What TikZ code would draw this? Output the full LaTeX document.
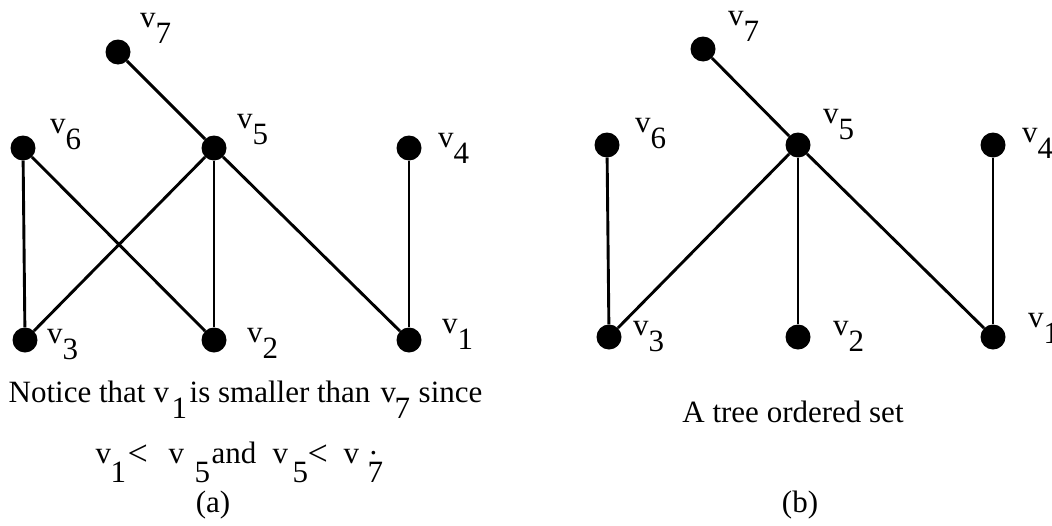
\documentclass[tikz,border=0pt]{standalone}
\usepackage{fontspec}
\setmainfont{Liberation Serif}
\newcommand{\vlab}[1]{v\lower16pt\hbox{#1}}
\newcommand{\putat}[2]{\makebox[0pt][l]{\kern#1pt #2}}
\newcommand{\lessmark}{\lower2pt\hbox{\fontsize{36}{40}\selectfont<}}
\begin{document}
\begin{tikzpicture}[x=1pt,y=-1pt,
  font=\fontsize{31}{37}\selectfont,
  dot/.style={circle,fill=black,minimum size=25pt,inner sep=0pt},
  edge/.style={line width=2.9pt},
  lab/.style={anchor=base west,inner sep=0pt},
  txt/.style={inner sep=0pt}]
\useasboundingbox (0,0) rectangle (1052,525);
% ---------- (a) ----------
\node[dot] (a7) at (118,52) {};
\node[dot] (a6) at (23,148) {};
\node[dot] (a5) at (214,148) {};
\node[dot] (a4) at (409,148) {};
\node[dot] (a3) at (25,340) {};
\node[dot] (a2) at (214,340) {};
\node[dot] (a1) at (409,340) {};
\draw[edge] (a7) -- (a5);
\draw[edge] (a6) -- (a3);
\draw[edge] (a6) -- (a2);
\draw[edge] (a5) -- (a3);
\draw[edge] (a5) -- (a2);
\draw[edge] (a5) -- (a1);
\draw[edge] (a4) -- (a1);
\node[lab] (la7) at (140,27) {\vlab{7}};
\node[lab] (la6) at (50,133) {\vlab{6}};
\node[lab] (la5) at (237,128) {\vlab{5}};
\node[lab] (la4) at (438,147) {\vlab{4}};
\node[lab] (la3) at (47,343) {\vlab{3}};
\node[lab] (la2) at (247,342) {\vlab{2}};
\node[lab] (la1) at (442,333) {\vlab{1}};
\node[txt,anchor=base west] (nt1) at (8,402) {\putat{0}{Notice that}\putat{145}{v}\putat{163}{\lower16pt\hbox{1}}\putat{181}{is smaller than}\putat{372}{v}\putat{386}{\lower16pt\hbox{7}}\putat{410}{since}};
\node[txt,anchor=base west] (nt2) at (95,463) {\putat{0}{v}\putat{15}{\lower19pt\hbox{1}}\putat{32}{\lessmark}\putat{73}{v}\putat{99}{\lower19pt\hbox{5}}\putat{116}{and}\putat{177}{v}\putat{197}{\lower19pt\hbox{5}}\putat{212}{\lessmark}\putat{248}{v}\putat{272}{\lower19pt\hbox{7}}\putat{274}{\raise9pt\hbox{.}}};
\node[txt,anchor=base] (capa) at (213,512) {(a)};
% ---------- (b) ----------
\node[dot] (b7) at (703,49) {};
\node[dot] (b6) at (607,145) {};
\node[dot] (b5) at (798,145) {};
\node[dot] (b4) at (993,145) {};
\node[dot] (b3) at (609,337) {};
\node[dot] (b2) at (798,337) {};
\node[dot] (b1) at (993,337) {};
\draw[edge] (b7) -- (b5);
\draw[edge] (b6) -- (b3);
\draw[edge] (b5) -- (b3);
\draw[edge] (b5) -- (b2);
\draw[edge] (b5) -- (b1);
\draw[edge] (b4) -- (b1);
\node[lab] (lb7) at (728,25) {\vlab{7}};
\node[lab] (lb6) at (635,132) {\vlab{6}};
\node[lab] (lb5) at (823,123) {\vlab{5}};
\node[lab] (lb4) at (1022,142) {\vlab{4}};
\node[lab] (lb3) at (633,335) {\vlab{3}};
\node[lab] (lb2) at (833,335) {\vlab{2}};
\node[lab] (lb1) at (1028,327) {\vlab{1}};
\node[txt,anchor=base] (tree) at (793,422) {A tree ordered set};
\node[txt,anchor=base] (capb) at (800,512) {(b)};
\end{tikzpicture}
\end{document}
